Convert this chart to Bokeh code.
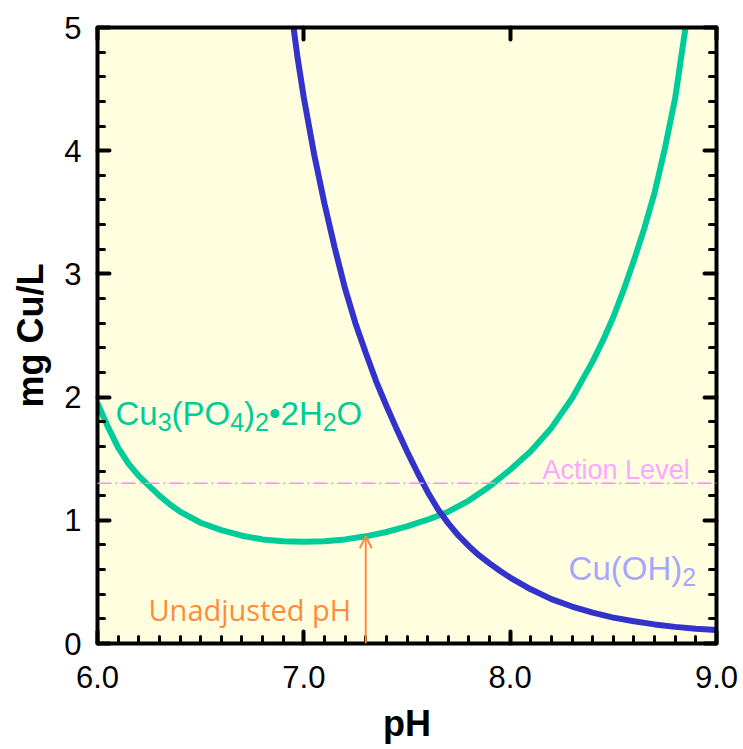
from bokeh.plotting import figure
from bokeh.models import (Label, Arrow, OpenHead, LinearAxis, SingleIntervalTicker,
                          Range1d, Span, PrintfTickFormatter, CustomLabelingPolicy)
from bokeh.embed import file_html
from bokeh.resources import INLINE

# ---- data ----
ph_phosphate = [6.00, 6.05, 6.10, 6.15, 6.20, 6.25, 6.30, 6.35, 6.40, 6.50, 6.60, 6.70,
                6.80, 6.90, 7.00, 7.10, 7.20, 7.30, 7.40, 7.50, 7.60, 7.70, 7.80, 7.90,
                8.00, 8.10, 8.20, 8.30, 8.40, 8.45, 8.50, 8.55, 8.60, 8.65, 8.70, 8.75,
                8.80, 8.85]
cu_phosphate = [1.95, 1.76, 1.59, 1.46, 1.36, 1.28, 1.20, 1.13, 1.07, 0.98, 0.92, 0.875,
                0.845, 0.83, 0.825, 0.83, 0.845, 0.87, 0.905, 0.95, 1.005, 1.07, 1.16, 1.275,
                1.41, 1.56, 1.75, 1.99, 2.29, 2.46, 2.65, 2.87, 3.11, 3.37, 3.66, 4.02,
                4.43, 5.00]

ph_hydroxide = [6.95, 6.97, 7.00, 7.05, 7.10, 7.15, 7.20, 7.25, 7.30, 7.35, 7.40, 7.45,
                7.50, 7.55, 7.60, 7.65, 7.70, 7.75, 7.80, 7.85, 7.90, 7.95, 8.00, 8.10,
                8.20, 8.30, 8.40, 8.50, 8.60, 8.70, 8.80, 8.90, 9.00]
cu_hydroxide = [5.00, 4.75, 4.43, 3.97, 3.57, 3.21, 2.88, 2.60, 2.36, 2.13, 1.93, 1.74,
                1.56, 1.39, 1.23, 1.09, 0.975, 0.875, 0.79, 0.715, 0.65, 0.59, 0.535, 0.44,
                0.36, 0.30, 0.25, 0.21, 0.18, 0.155, 0.135, 0.12, 0.11]

action_level = 1.3
unadjusted_ph = 7.3
unadjusted_cu = 0.87

x_ticks_fmt = "%.1f"
y_ticks_fmt = "%d"

GREEN = "#00CC99"
BLUE = "#3333CC"
FONT = "Liberation Sans"

p = figure(width=743, height=749, x_range=Range1d(6.0, 9.0), y_range=Range1d(0, 5),
           output_backend="svg", toolbar_location=None,
           background_fill_color="#FFFFE0", border_fill_color="white",
           min_border_left=97, min_border_right=27, min_border_top=27, min_border_bottom=106)
p.outline_line_color = None
p.grid.visible = False

hide_labels = CustomLabelingPolicy(code="""
    for (const i of Array.from(indices)) {
        indices.unset(i)
    }
    return indices
""")


def style_axis(ax, minor, show_labels):
    ax.axis_line_width = 4
    ax.axis_line_color = "black"
    ax.major_tick_in = 12
    ax.major_tick_out = 0
    ax.minor_tick_in = 7
    ax.minor_tick_out = 0
    ax.major_tick_line_width = 4
    ax.minor_tick_line_width = 3
    ax.major_tick_line_color = "black"
    ax.minor_tick_line_color = "black" if minor else None
    ax.major_tick_line_cap = "round"
    ax.minor_tick_line_cap = "round"
    if show_labels:
        ax.major_label_text_font = FONT
        ax.major_label_text_font_size = "31px"
        ax.major_label_text_color = "black"
        ax.axis_label_text_font = FONT
        ax.axis_label_text_font_size = "36px"
        ax.axis_label_text_font_style = "bold"
        ax.axis_label_text_color = "black"
    else:
        ax.major_label_policy = hide_labels
        ax.major_label_standoff = 0


xa = p.xaxis[0]
xa.ticker = SingleIntervalTicker(interval=1, num_minor_ticks=10)
xa.formatter = PrintfTickFormatter(format=x_ticks_fmt)
xa.axis_label = "pH"
style_axis(xa, True, True)
xa.major_label_standoff = 22
xa.axis_label_standoff = 12

ya = p.yaxis[0]
ya.ticker = SingleIntervalTicker(interval=1, num_minor_ticks=5)
ya.formatter = PrintfTickFormatter(format=y_ticks_fmt)
ya.axis_label = "mg Cu/L"
style_axis(ya, True, True)
ya.major_label_standoff = 16
ya.axis_label_standoff = 10

top = LinearAxis(ticker=SingleIntervalTicker(interval=1, num_minor_ticks=0))
style_axis(top, False, False)
p.add_layout(top, "above")

right = LinearAxis(ticker=SingleIntervalTicker(interval=1, num_minor_ticks=5))
style_axis(right, True, False)
p.add_layout(right, "right")

# action level
p.add_layout(Span(location=action_level, dimension="width", line_color="#FF88FF",
                  line_width=1.5, line_dash="14 4 2 4"))

# arrow for unadjusted pH
p.add_layout(Arrow(end=OpenHead(size=12, line_color="#FF8844", line_width=2),
                   x_start=unadjusted_ph, y_start=0, x_end=unadjusted_ph, y_end=unadjusted_cu,
                   line_color="#FF8844", line_width=2))

p.line(ph_phosphate, cu_phosphate, line_color=GREEN, line_width=6)
p.line(ph_hydroxide, cu_hydroxide, line_color=BLUE, line_width=6)

# Arial/Liberation Sans advance widths (em)
ADV = {"C": 0.722, "u": 0.556, "(": 0.333, ")": 0.333, "P": 0.667, "O": 0.778,
       "H": 0.722, "\u2022": 0.35, "2": 0.556, "3": 0.556, "4": 0.556}


def rich_label(parts, x, y, color, size=33, sub_size=25, drop=9):
    off = 0.0
    for t, is_sub in parts:
        fs = sub_size if is_sub else size
        p.add_layout(Label(x=x, y=y, x_offset=off, y_offset=-drop if is_sub else 0,
                           text=t, text_font=FONT, text_font_size=f"{fs}px",
                           text_color=color, text_baseline="alphabetic", text_align="left"))
        off += sum(ADV.get(c, 0.556) for c in t) * fs


rich_label([("Cu", False), ("3", True), ("(PO", False), ("4", True), (")", False),
            ("2", True), ("\u20222H", False), ("2", True), ("O", False)],
           6.087, 1.867, GREEN)
rich_label([("Cu(OH)", False), ("2", True)], 8.283, 0.609, "#A6A6FF")

p.add_layout(Label(x=8.157, y=1.41, text="Action Level", text_font=FONT,
                   text_font_size="27px", text_color="#FFA6FF", text_baseline="alphabetic"))
p.add_layout(Label(x=6.247, y=0.276, text="Unadjusted pH", text_font="Open Sans",
                   text_font_size="29px", text_color="#FF8C3A", text_baseline="alphabetic"))

open("out.html", "w").write(file_html(p, INLINE))
